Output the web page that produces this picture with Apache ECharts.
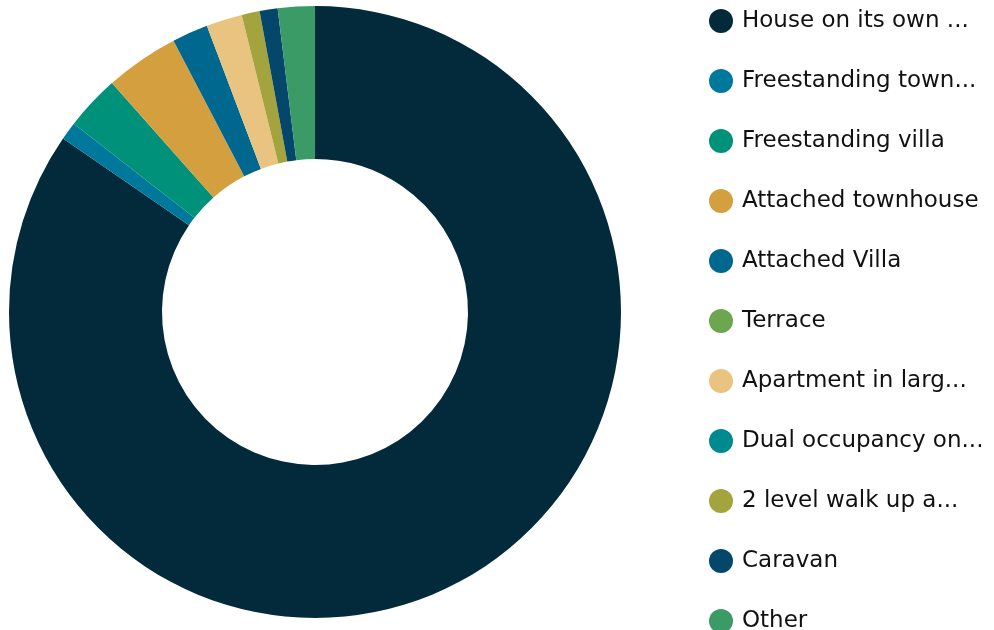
<!DOCTYPE html>
<html>
<head>
<meta charset="utf-8">
<script src="https://cdn.jsdelivr.net/npm/echarts@6/dist/echarts.min.js"></script>
<style>
  html, body { margin: 0; padding: 0; background: #fff; }
  #main { width: 994px; height: 630px; }
</style>
</head>
<body>
<div id="main"></div>
<script>
// dwelling types, share in percent
var categories = [
  "House on its own block",
  "Freestanding townhouse",
  "Freestanding villa",
  "Attached townhouse",
  "Attached Villa",
  "Terrace",
  "Apartment in large block",
  "Dual occupancy on one lot",
  "2 level walk up apartment",
  "Caravan",
  "Other"
];
var shares = [84.6, 0.95, 2.9, 3.9, 1.9, 0, 1.9, 0, 0.95, 0.95, 1.95];
var colors = [
  "#032a3b", "#00789b", "#00917a", "#d49f3e", "#00678f", "#6ca64e",
  "#e8c480", "#008a8f", "#a4a43e", "#05476a", "#3a9b67"
];

var chartDom = document.getElementById("main");
var myChart = echarts.init(chartDom);

var pieData = categories.map(function (name, i) {
  return { name: name, value: shares[i], itemStyle: { color: colors[i] } };
});

var option = {
  animation: false,
  legend: {
    orient: "vertical",
    left: 709,
    top: 9,
    height: 660,
    padding: 0,
    icon: "circle",
    itemWidth: 32,
    itemHeight: 24,
    itemGap: 36,
    formatter: function (name) {
      // long names are cut to 17 characters
      return name.length > 18 ? name.slice(0, 17) + "..." : name;
    },
    textStyle: {
      fontFamily: "DejaVu Sans",
      fontSize: 23,
      color: "#111"
    },
    data: categories
  },
  series: [
    {
      type: "pie",
      center: [315, 312],
      radius: [153, 306],
      startAngle: 90,
      clockwise: true,
      label: { show: false },
      labelLine: { show: false },
      emphasis: { disabled: true },
      data: pieData
    }
  ]
};

myChart.setOption(option);
</script>
</body>
</html>
